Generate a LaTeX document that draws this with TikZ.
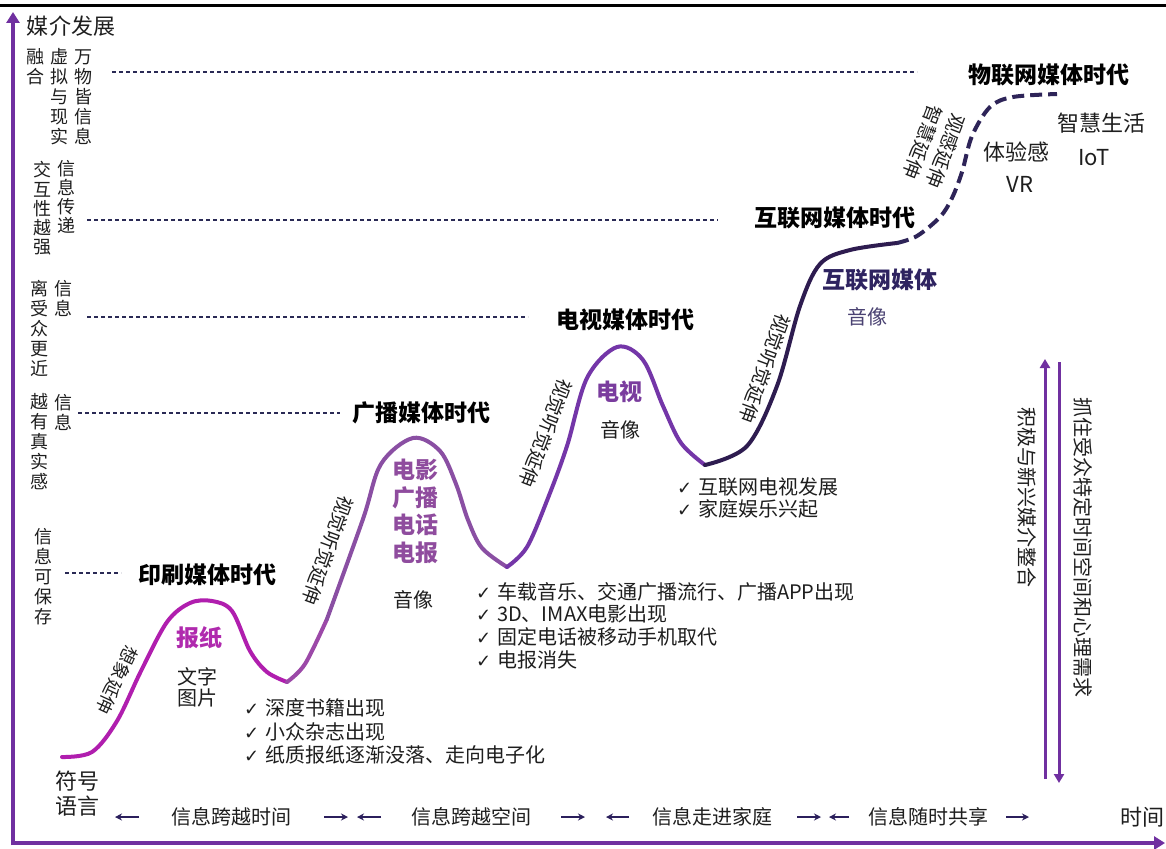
\documentclass[tikz,border=0pt]{standalone}
\usepackage{fontspec}
\setmainfont{Noto Sans CJK SC}
\newfontfamily\symf{DejaVu Sans}
\usetikzlibrary{arrows.meta}
\definecolor{axispurple}{HTML}{7030A0}
\definecolor{segA}{HTML}{B01EAE}
\definecolor{segAB}{HTML}{9C49A8}
\definecolor{segB}{HTML}{8A4FA3}
\definecolor{segC}{HTML}{7436A8}
\definecolor{segD}{HTML}{2E1C50}
\definecolor{segE}{HTML}{2E2458}
\definecolor{guidecol}{HTML}{2A2A55}
\definecolor{labA}{HTML}{B02AAE}
\definecolor{labB}{HTML}{8F4C9E}
\definecolor{labC}{HTML}{7A3C9E}
\definecolor{labD}{HTML}{2E2360}
\definecolor{labDs}{HTML}{4A4272}
\definecolor{txt}{HTML}{1E1E1E}
\definecolor{arrnavy}{HTML}{2B1F5C}
\newcommand\myfs[1]{\fontsize{#1}{#1}\selectfont}
\begin{document}
\begin{tikzpicture}[x=1pt,y=-1pt,
  every node/.style={inner sep=0pt,outer sep=0pt,text=txt},
  curve/.style={line width=4pt,line cap=round,line join=round},
  guide/.style={draw=guidecol,line width=1.2pt,dash pattern=on 4pt off 3pt},
  era/.style={font=\myfs{23}\bfseries,text=black},
  peak/.style={font=\fontsize{23}{28}\selectfont\bfseries,align=center},
  body/.style={font=\myfs{20}},
  bodyl/.style={font=\myfs{22}},
  col/.style={align=center,font=\fontsize{18}{20}\selectfont},
  slant/.style={font=\myfs{19}},
  listitem/.style={anchor=west,font=\myfs{20}},
  axisline/.style={draw=axispurple,line width=4pt,-{Triangle[length=11pt,width=13pt]}},
  sidearrow/.style={draw=axispurple,line width=3pt,-{Triangle[length=9pt,width=10pt]}},
  smallarrow/.style={draw=arrnavy,line width=1.8pt,-{Stealth[length=7pt,width=7pt]}}
]
\useasboundingbox[fill=white] (0,0) rectangle (1166,848);
% top rule
\coordinate (tl) at (0,5.5);
\coordinate (tr) at (1166,5.5);
\draw[black,line width=3pt] (tl) -- (tr);
% axes
\coordinate (orig) at (13,845);
\coordinate (ytop) at (13,12);
\coordinate (xorig) at (11,843);
\coordinate (xend) at (1165,843);
\draw[axisline] (orig) -- (ytop);
\draw[axisline] (xorig) -- (xend);
\node[anchor=west,font=\myfs{22}] (ytitle) at (27,26) {媒介发展};
\node[font=\myfs{22}] (xtitle) at (1142,817) {时间};

% guides
\coordinate (g1s) at (112,72);  \coordinate (g1e) at (917,72);
\coordinate (g2s) at (87,220);  \coordinate (g2e) at (718,220);
\coordinate (g3s) at (87,317);  \coordinate (g3e) at (528,317);
\coordinate (g4s) at (78,413);  \coordinate (g4e) at (340,413);
\coordinate (g5s) at (65,573);  \coordinate (g5e) at (121,573);
\draw[guide] (g1s) -- (g1e);
\draw[guide] (g2s) -- (g2e);
\draw[guide] (g3s) -- (g3e);
\draw[guide] (g4s) -- (g4e);
\draw[guide] (g5s) -- (g5e);

% left axis labels
\node[col] (la1) at (36,67) {融\\合};
\node[col] (la2) at (59,97) {虚\\拟\\与\\现\\实};
\node[col] (la3) at (83,97) {万\\物\\皆\\信\\息};
\node[col,font=\fontsize{18}{19.25}\selectfont] (lb1) at (42,208.5) {交\\互\\性\\越\\强};
\node[col,font=\fontsize{18}{19}\selectfont] (lb2) at (66,197) {信\\息\\传\\递};
\node[col] (lc1) at (39,328) {离\\受\\众\\更\\近};
\node[col] (lc2) at (63,298) {信\\息};
\node[col] (ld1) at (39,442) {越\\有\\真\\实\\感};
\node[col] (ld2) at (63,412) {信\\息};
\node[col] (le1) at (43,577) {信\\息\\可\\保\\存};

% curve
\draw[curve,segA] plot[smooth,tension=0.55] coordinates {(62,757) (92,752) (117,721) (141,671) (167,622) (190,603) (212,601) (232,611) (250,651) (267,672) (287,682)};
\draw[curve,segAB] plot[smooth,tension=0.55] coordinates {(287,682) (305,664) (327,619)};
\draw[curve,segB] plot[smooth,tension=0.55] coordinates {(327,619) (363,519) (381,464) (413,438) (440,451) (456,484) (468,520) (482,548) (507,567)};
\draw[curve,segC] plot[smooth,tension=0.55] coordinates {(507,567) (527,547) (548,498) (567,446) (587,378) (617,347) (643,360) (663,406) (681,443) (705,465)};
\draw[curve,segD] plot[smooth,tension=0.55] coordinates {(705,465) (747,446) (777,386) (800,306) (820,264) (850,250) (897,243)};
\draw[curve,segE,line cap=butt,dash pattern=on 12pt off 6pt] plot[smooth,tension=0.55] coordinates {(897,243) (917,236) (940,217) (952,198) (962,172) (972,136) (990,107) (1013,97) (1057,94)};

% slanted labels
\node[slant,font=\myfs{18},rotate=-115] (s1) at (117,680) {想象延伸};
\node[slant,rotate=-110] (s2) at (328,550) {视觉听觉延伸};
\node[slant,rotate=-111] (s3) at (546,433) {视觉听觉延伸};
\node[slant,rotate=-110] (s4) at (765,368) {视觉听觉延伸};
\node[slant,rotate=-111] (s5) at (923,142) {智慧延伸};
\node[slant,rotate=-111] (s6) at (946,151) {观感延伸};

% era titles
\node[era] (e1) at (207,575) {印刷媒体时代};
\node[era] (e2) at (421,413) {广播媒体时代};
\node[era] (e3) at (625,320) {电视媒体时代};
\node[era] (e4) at (835,218) {互联网媒体时代};
\node[era] (e5) at (1049,75) {物联网媒体时代};

% peak labels
\node[peak,text=labA] (p1) at (199,638) {报纸};
\node[body,align=center,font=\fontsize{20}{21}\selectfont] (p1b) at (197,687.5) {文字\\图片};
\node[peak,text=labB,font=\fontsize{23}{27.7}\selectfont\bfseries] (p2) at (415,511.5) {电影\\广播\\电话\\电报};
\node[body] (p2b) at (413,600) {音像};
\node[peak,text=labC] (p3) at (619,392) {电视};
\node[body] (p3b) at (620,430) {音像};
\node[peak,text=labD] (p4) at (880,280) {互联网媒体};
\node[body,text=labDs] (p4b) at (867,317) {音像};
\node[bodyl] (p5) at (1016,152) {体验感};
\node[bodyl] (p5b) at (1020,184) {VR};
\node[bodyl] (p6) at (1101,123) {智慧生活};
\node[bodyl] (p6b) at (1094,158) {IoT};

% checklists
\newcommand\ck{{\symf\myfs{18}✓}\hspace{6pt}}
\node[listitem] (ca1) at (244,708) {\ck 深度书籍出现};
\node[listitem] (ca2) at (244,732) {\ck 小众杂志出现};
\node[listitem] (ca3) at (244,755) {\ck 纸质报纸逐渐没落、走向电子化};
\node[listitem] (cb1) at (476,592) {\ck 车载音乐、交通广播流行、广播APP出现};
\node[listitem] (cb2) at (476,614) {\ck 3D、IMAX电影出现};
\node[listitem] (cb3) at (476,637) {\ck 固定电话被移动手机取代};
\node[listitem] (cb4) at (476,660) {\ck 电报消失};
\node[listitem] (cc1) at (677,487) {\ck 互联网电视发展};
\node[listitem] (cc2) at (677,509) {\ck 家庭娱乐兴起};

% right side
\coordinate (r1s) at (1045,779); \coordinate (r1e) at (1045,359);
\coordinate (r2s) at (1059,362); \coordinate (r2e) at (1059,783);
\draw[sidearrow] (r1s) -- (r1e);
\draw[sidearrow] (r2s) -- (r2e);
\node[body,rotate=-90] (rt1) at (1027,497) {积极与新兴媒介整合};
\node[body,rotate=-90] (rt2) at (1083,547) {抓住受众特定时间空间和心理需求};

% bottom row
\node[bodyl] (b0) at (77.5,796) {\begin{tabular}{@{}c@{}}\fontsize{22}{25}\selectfont 符号\\ 语言\end{tabular}};
\node[body] (bt1) at (231,817) {信息跨越时间};
\node[body] (bt2) at (471,817) {信息跨越空间};
\node[body] (bt3) at (712,817) {信息走进家庭};
\node[body] (bt4) at (928,817) {信息随时共享};
\coordinate (a1s) at (139,817); \coordinate (a1e) at (115,817);
\coordinate (a2s) at (324,817); \coordinate (a2e) at (348,817);
\coordinate (a3s) at (381,817); \coordinate (a3e) at (357,817);
\coordinate (a4s) at (561,817); \coordinate (a4e) at (585,817);
\coordinate (a5s) at (629,817); \coordinate (a5e) at (606,817);
\coordinate (a6s) at (797,817); \coordinate (a6e) at (821,817);
\coordinate (a7s) at (849,817); \coordinate (a7e) at (829,817);
\coordinate (a8s) at (1006,817); \coordinate (a8e) at (1029,817);
\draw[smallarrow] (a1s) -- (a1e);
\draw[smallarrow] (a2s) -- (a2e);
\draw[smallarrow] (a3s) -- (a3e);
\draw[smallarrow] (a4s) -- (a4e);
\draw[smallarrow] (a5s) -- (a5e);
\draw[smallarrow] (a6s) -- (a6e);
\draw[smallarrow] (a7s) -- (a7e);
\draw[smallarrow] (a8s) -- (a8e);
\end{tikzpicture}
\end{document}
